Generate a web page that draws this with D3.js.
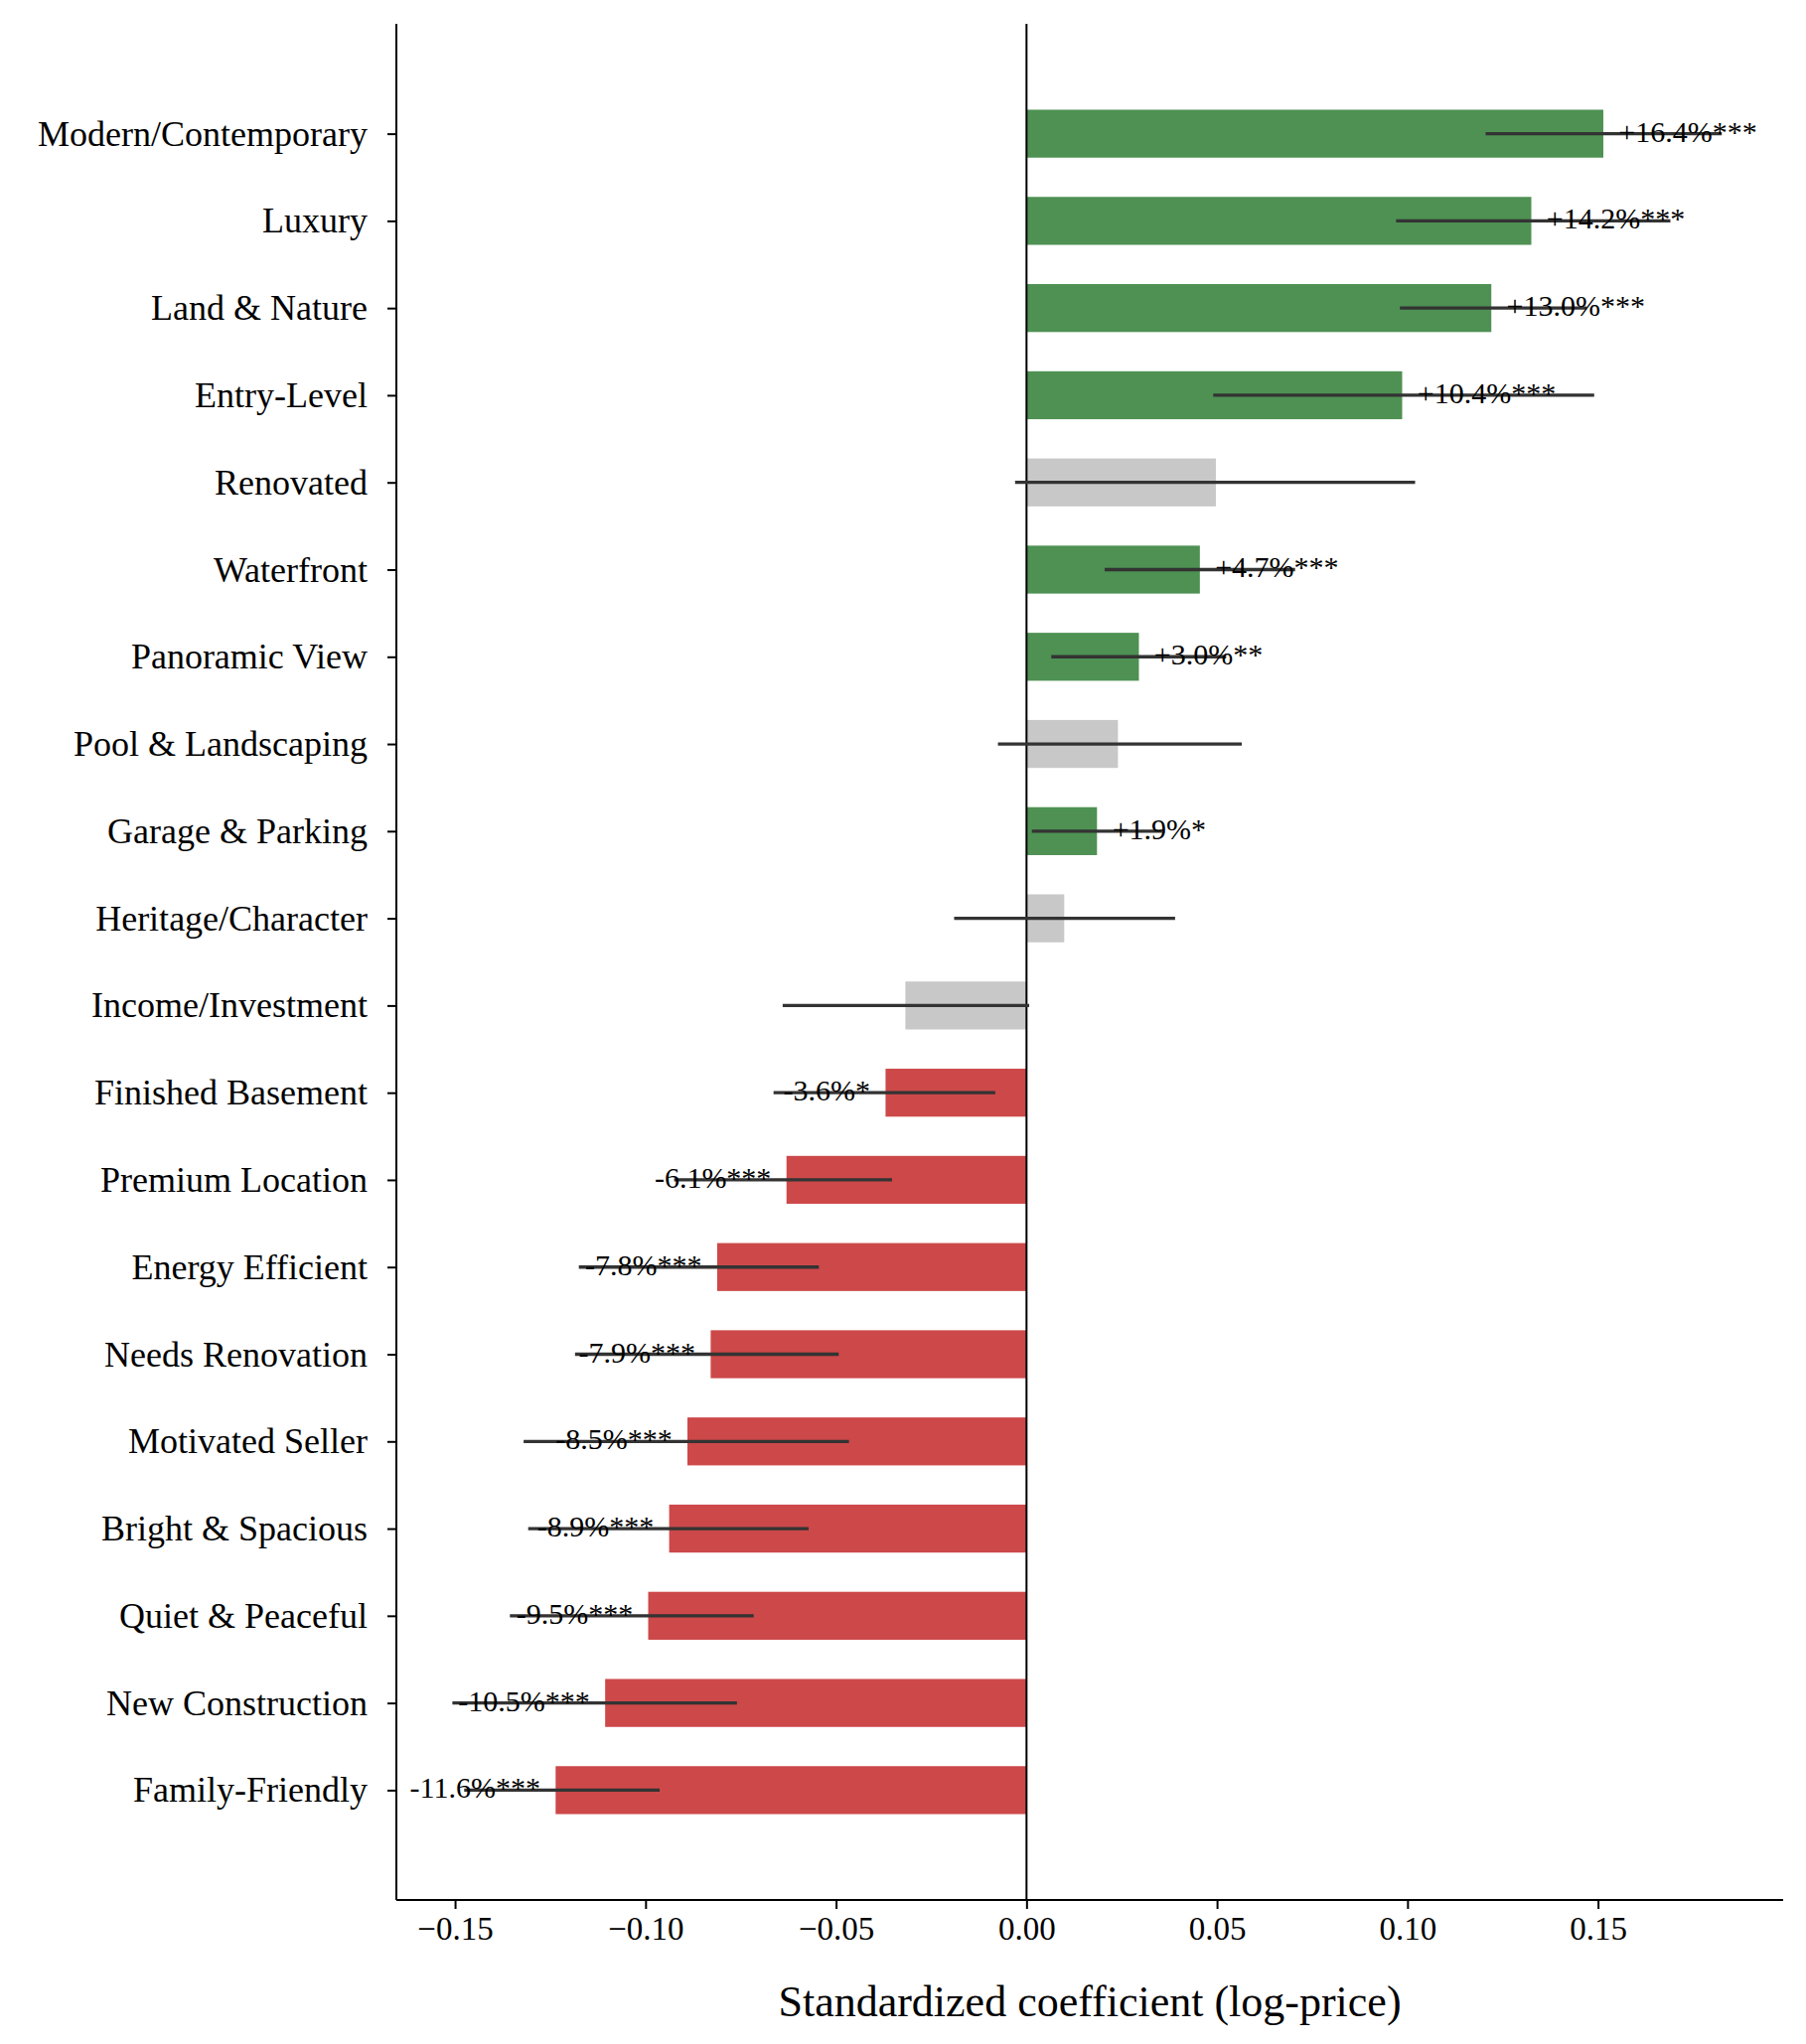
<!DOCTYPE html>
<html><head><meta charset="utf-8">
<script src="https://cdn.jsdelivr.net/npm/d3@7"></script>
<style>body{margin:0;background:#fff}svg{font-family:"Liberation Serif","DejaVu Serif",serif}</style>
</head><body><svg id="c" width="1818" height="2058"></svg>
<script>
const categories=["Modern/Contemporary","Luxury","Land & Nature","Entry-Level","Renovated","Waterfront","Panoramic View","Pool & Landscaping","Garage & Parking","Heritage/Character","Income/Investment","Finished Basement","Premium Location","Energy Efficient","Needs Renovation","Motivated Seller","Bright & Spacious","Quiet & Peaceful","New Construction","Family-Friendly"];
const coefs=[0.1514,0.1325,0.122,0.0986,0.0497,0.0455,0.0295,0.024,0.0185,0.0099,-0.0318,-0.037,-0.063,-0.0812,-0.0829,-0.089,-0.0938,-0.0993,-0.1106,-0.1236];
const ciLow=[0.1205,0.097,0.098,0.049,-0.003,0.0205,0.0065,-0.0075,0.0014,-0.019,-0.064,-0.0664,-0.0925,-0.1175,-0.1185,-0.132,-0.1308,-0.1356,-0.1507,-0.1476];
const ciHigh=[0.1825,0.169,0.147,0.149,0.102,0.0705,0.0524,0.0565,0.0356,0.039,0.0007,-0.0082,-0.0353,-0.0545,-0.0493,-0.0466,-0.0572,-0.0716,-0.076,-0.0963];
const labels=["+16.4%***","+14.2%***","+13.0%***","+10.4%***","","+4.7%***","+3.0%**","","+1.9%*","","","-3.6%*","-6.1%***","-7.8%***","-7.9%***","-8.5%***","-8.9%***","-9.5%***","-10.5%***","-11.6%***"];
const xTicks=[-0.15,-0.10,-0.05,0,0.05,0.10,0.15];

const svg=d3.select("#c");
const L=399,R=1795,T=24,B=1913;
const x=d3.scaleLinear().domain([-0.1654,0.1986]).range([L,R]);
const y=d3.scaleLinear().domain([-1.26,20.26]).range([T,B]);
const bh=(y(0.275)-y(-0.275));
const col=(i)=>labels[i]===""?"#c8c8c8":(coefs[i]>0?"#4e9153":"#cd4849");

svg.selectAll("rect.bar").data(coefs).join("rect")
 .attr("x",d=>x(Math.min(0,d))).attr("width",d=>Math.abs(x(d)-x(0)))
 .attr("y",(d,i)=>y(i)-bh/2).attr("height",bh).attr("fill",(d,i)=>col(i));
svg.append("line").attr("x1",x(0)).attr("x2",x(0)).attr("y1",T).attr("y2",B).attr("stroke","#000").attr("stroke-width",2);
svg.selectAll("line.err").data(coefs).join("line")
 .attr("x1",(d,i)=>x(ciLow[i])).attr("x2",(d,i)=>x(ciHigh[i]))
 .attr("y1",(d,i)=>y(i)).attr("y2",(d,i)=>y(i)).attr("stroke","#333").attr("stroke-width",3.3);
svg.selectAll("text.lab").data(coefs).join("text")
 .attr("x",d=>x(d>0?d+0.004:d-0.004)).attr("y",(d,i)=>y(i)+8)
 .attr("text-anchor",d=>d>0?"start":"end").attr("font-size",30).text((d,i)=>labels[i]);

const xa=svg.append("g").attr("transform",`translate(0,${B})`)
 .call(d3.axisBottom(x).tickValues(xTicks).tickSize(9).tickPadding(8).tickFormat(d=>d3.format(".2f")(d).replace("-","\u2212")));
xa.select(".domain").attr("d",`M${L},0H${R}`).attr("stroke-width",2);
xa.selectAll(".tick line").attr("stroke-width",2);
xa.selectAll("text").attr("font-size",33).attr("font-family","Liberation Serif").attr("fill","#000");
const ya=svg.append("g").attr("transform",`translate(${L},0)`)
 .call(d3.axisLeft(d3.scalePoint().domain(categories).range([y(0),y(19)])).tickSize(9).tickPadding(20));
ya.select(".domain").attr("d",`M0,${T}V${B}`).attr("stroke-width",2);
ya.selectAll(".tick line").attr("stroke-width",2);
ya.selectAll("text").attr("font-size",36).attr("font-family","Liberation Serif").attr("fill","#000");
svg.append("text").attr("x",(L+R)/2).attr("y",2030).attr("text-anchor","middle").attr("font-size",44).text("Standardized coefficient (log-price)");
</script></body></html>
